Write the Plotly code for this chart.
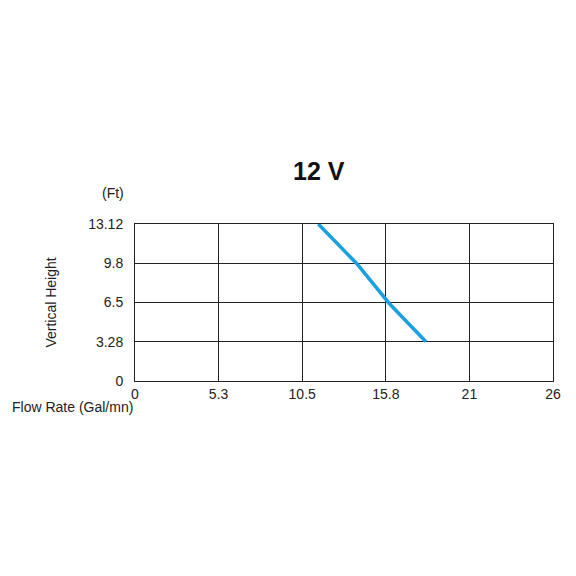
import plotly.graph_objects as go

flow = [11.4, 13.8, 15.8, 18.1]
height = [13.12, 9.8, 6.5, 3.28]
x_ticks = [0, 5.3, 10.5, 15.8, 21, 26]
x_tick_pos = [0, 5.2, 10.4, 15.6, 20.8, 26]
y_ticks = [0, 3.28, 6.5, 9.8, 13.12]
y_tick_pos = [0, 3.28, 6.56, 9.84, 13.12]

fig = go.Figure(go.Scatter(x=flow, y=height, mode="lines",
                           line=dict(color="#1a9fe0", width=3.5), showlegend=False))
fnt = dict(family="Liberation Sans, Arial", size=14, color="#222")
fig.update_xaxes(range=[0, 26], tickvals=x_tick_pos, ticktext=[str(v) for v in x_ticks],
                 showgrid=True, gridcolor="#222", gridwidth=1, zeroline=False,
                 showline=True, linecolor="#222", mirror=True, ticks="", tickfont=fnt)
fig.update_yaxes(range=[0, 13.12], tickvals=y_tick_pos, ticktext=[str(v) for v in y_ticks],
                 showgrid=True, gridcolor="#222", gridwidth=1, zeroline=False,
                 showline=True, linecolor="#222", mirror=True, ticks="", tickfont=fnt,
                 ticklabelstandoff=8)
fig.update_layout(
    width=576, height=576, plot_bgcolor="white", paper_bgcolor="white",
    margin=dict(l=127, r=31, t=216, b=203),
    annotations=[
        dict(text="<b>12 V</b>", x=0.44, y=1.44, xref="paper", yref="paper", showarrow=False,
             font=dict(family="Liberation Sans, Arial", size=25, color="#111")),
        dict(text="(Ft)", xref="paper", yref="paper", x=-0.084, y=1.26, showarrow=False, font=fnt),
        dict(text="Flow Rate (Gal/mn)", xref="paper", yref="paper", x=-0.30, y=-0.23,
             xanchor="left", showarrow=False, font=fnt),
        dict(text="Vertical Height", xref="paper", yref="paper", x=-0.227, y=0.5,
             textangle=-90, showarrow=False, font=fnt),
    ],
)
fig.write_html("out.html")
